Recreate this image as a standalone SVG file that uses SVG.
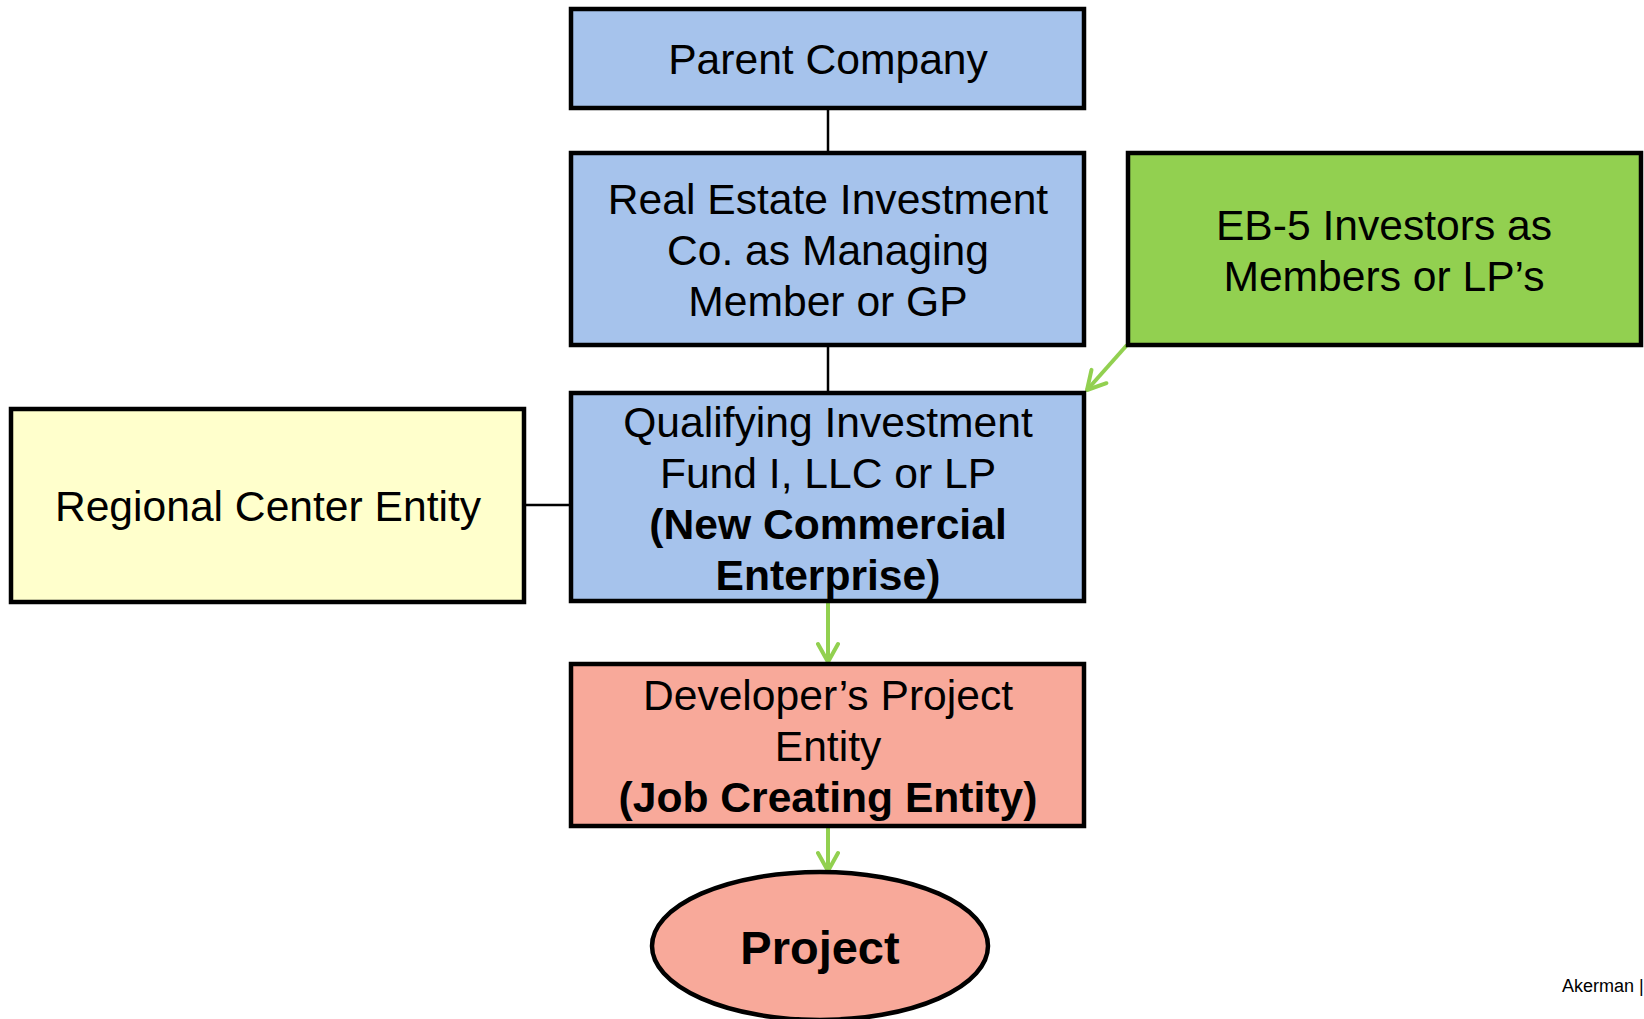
<svg xmlns="http://www.w3.org/2000/svg" width="1644" height="1019" viewBox="0 0 1644 1019">
<style>
.box{stroke:#000;stroke-width:4.5}
.blue{fill:#A6C3EC}
.green{fill:#92D050}
.yellow{fill:#FFFFCC}
.salmon{fill:#F8A99A}
text{font-family:"Liberation Sans",Arial,sans-serif;font-size:42.6px;fill:#000;text-anchor:middle}
.b{font-weight:bold}
.line{stroke:#000;stroke-width:2.5;fill:none}
.garrow{stroke:#92D050;stroke-width:4;fill:none;marker-end:url(#ah)}
</style>
<defs>
<marker id="ah" markerUnits="userSpaceOnUse" markerWidth="24" markerHeight="24" viewBox="0 0 24 24" refX="21" refY="12" orient="auto">
<path d="M3,2 L21,12 L3,22" fill="none" stroke="#92D050" stroke-width="4" stroke-linecap="round" stroke-linejoin="round"/>
</marker>
</defs>
<rect width="1644" height="1019" fill="#fff"/>
<g id="connectors">
<line class="line" x1="828" y1="108" x2="828" y2="153"/>
<line class="line" x1="828" y1="345" x2="828" y2="393"/>
<line class="line" x1="524" y1="505" x2="571" y2="505"/>
<line class="garrow" x1="1127" y1="345" x2="1087" y2="390"/>
<line class="garrow" x1="828" y1="601" x2="828" y2="662"/>
<line class="garrow" x1="828" y1="826" x2="828" y2="871"/>
</g>
<g id="parent">
<rect class="box blue" x="571" y="9" width="513" height="99"/>
<text x="828" y="74">Parent Company</text>
</g>
<g id="reic">
<rect class="box blue" x="571" y="153" width="513" height="192"/>
<text x="828" y="214">Real Estate Investment</text>
<text x="828" y="265">Co. as Managing</text>
<text x="828" y="316">Member or GP</text>
</g>
<g id="eb5">
<rect class="box green" x="1128" y="153" width="513" height="192"/>
<text x="1384" y="240">EB-5 Investors as</text>
<text x="1384" y="291">Members or LP’s</text>
</g>
<g id="qif">
<rect class="box blue" x="571" y="393" width="513" height="208"/>
<text x="828" y="437">Qualifying Investment</text>
<text x="828" y="488">Fund I, LLC or LP</text>
<text class="b" x="828" y="539">(New Commercial</text>
<text class="b" x="828" y="590">Enterprise)</text>
</g>
<g id="regional">
<rect class="box yellow" x="11" y="409" width="513" height="193"/>
<text x="268" y="521">Regional Center Entity</text>
</g>
<g id="developer">
<rect class="box salmon" x="571" y="664" width="513" height="162"/>
<text x="828" y="710">Developer’s Project</text>
<text x="828" y="761">Entity</text>
<text class="b" x="828" y="812">(Job Creating Entity)</text>
</g>
<g id="project">
<ellipse class="box salmon" cx="820" cy="946" rx="168" ry="74"/>
<text class="b" x="820" y="964" style="font-size:47px">Project</text>
</g>
<text x="1562" y="992" style="font-size:18px;text-anchor:start">Akerman |</text>
</svg>
